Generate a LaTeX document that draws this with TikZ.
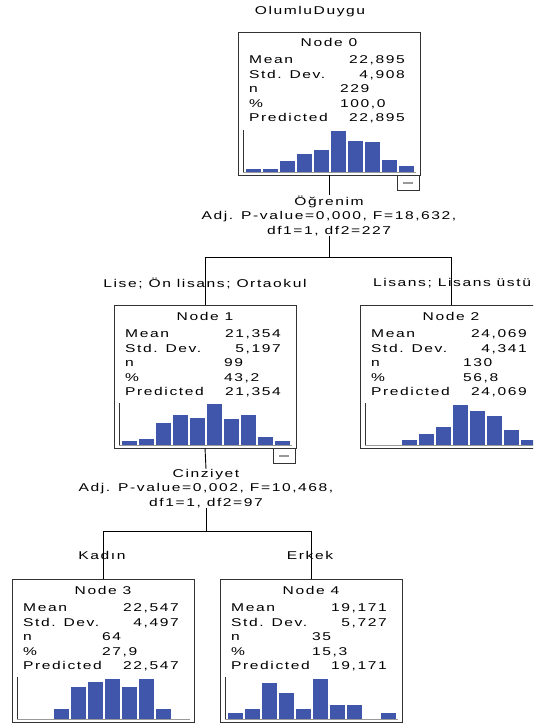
\documentclass[tikz,border=0pt]{standalone}
\usepackage{fontspec}
\setmainfont{Liberation Sans}[FakeStretch=1.38,LetterSpace=14]
\definecolor{histblue}{RGB}{64,86,170}
\tikzset{
  statbox/.style={draw=black!80, line width=0.9pt, minimum width=182pt, minimum height=143pt,
    anchor=north west, inner sep=0pt, outer sep=0pt},
  txt/.style={font=\fontsize{11.3}{14.5}\selectfont, text=black, inner sep=0pt},
  conn/.style={draw=black, line width=0.9pt},
  iconbox/.style={draw=black!80, line width=0.9pt},
}
\newcommand\chaidnode[5]{% name, L, T, number, bars
  \node[statbox] (#1) at (#2,#3) {};
  \node[txt, anchor=base] (#1-h) at ({#2+91},{#3+15}) {Node #4};
  \foreach \h [count=\i] in {#5} {
    \fill[histblue] ({#2+7+17*(\i-1)+0.6},{#3+140}) rectangle ({#2+7+17*\i-0.6},{#3+140-\h});
  }
  \draw[black!80, line width=0.8pt] ({#2+5},{#3+98}) -- ({#2+5},{#3+140.5});
  \draw[black!40, line width=0.8pt] ({#2+5},{#3+140.5}) -- ({#2+178},{#3+140.5});
}
\newcommand\chaidvals[8]{% L, T, nx, mean, sd, n, pct, pred
  \node[txt, anchor=base west] at ({#1+11},{#2+32}) {Mean};
  \node[txt, anchor=base west] at ({#1+11},{#2+47}) {Std. Dev.};
  \node[txt, anchor=base west] at ({#1+11},{#2+61}) {n};
  \node[txt, anchor=base west] at ({#1+11},{#2+76}) {\%};
  \node[txt, anchor=base west] at ({#1+11},{#2+90}) {Predicted};
  \node[txt, anchor=base east] at ({#1+167},{#2+32}) {#4};
  \node[txt, anchor=base east] at ({#1+167},{#2+47}) {#5};
  \node[txt, anchor=base west] at (#3,{#2+61}) {#6};
  \node[txt, anchor=base west] at (#3,{#2+76}) {#7};
  \node[txt, anchor=base east] at ({#1+167},{#2+90}) {#8};
}
\newcommand\minusicon[2]{% L, T
  \draw[iconbox] ({#1+159},{#2+143}) rectangle ({#1+181},{#2+158});
  \draw[black!40, line width=1.2pt] ({#1+165},{#2+151}) -- ({#1+175},{#2+151});
}
\begin{document}
\begin{tikzpicture}[x=1pt,y=-1pt]
  \useasboundingbox (0,0) rectangle (533,727);
  \clip (0,0) rectangle (533,727);
  \fill[white] (0,0) rectangle (533,727);

  \node[txt] (title) at (310,12) {OlumluDuygu};

  % nodes
  \chaidnode{n0}{238}{32}{0}{3.3,3.3,11,17.7,21.7,40.7,31.3,30,11.7,5.7}
  \chaidvals{238}{32}{340}{22,895}{4,908}{229}{100,0}{22,895}
  \minusicon{238}{32}

  \chaidnode{n1}{114}{305}{1}{4,5.7,21.7,30,26.7,40.7,25.7,30,8,4}
  \chaidvals{114}{305}{224}{21,354}{5,197}{99}{43,2}{21,354}
  \minusicon{114}{305}

  \chaidnode{n2}{360}{305}{2}{0,0,5,11,17.7,40,34,29,15,5}
  \chaidvals{360}{305}{463}{24,069}{4,341}{130}{56,8}{24,069}

  \chaidnode{n3}{12}{579}{3}{0,0,10,31.7,37.3,40,31.7,40,10,0}
  \chaidvals{12}{579}{102}{22,547}{4,497}{64}{27,9}{22,547}

  \chaidnode{n4}{220}{579}{4}{5.7,10,36,26,10,40,14,14,0,5.7}
  \chaidvals{220}{579}{312}{19,171}{5,727}{35}{15,3}{19,171}

  % split descriptions
  \node[txt, align=center, anchor=north] (s0) at (329,195.5)
    {Öğrenim\\Adj. P-value=0,000, F=18,632,\\df1=1, df2=227};
  \node[txt, align=center, anchor=north] (s1) at (206,469)
    {Cinziyet\\Adj. P-value=0,002, F=10,468,\\df1=1, df2=97};

  \coordinate (j0) at (329,257);
  \coordinate (j1) at (206,531);

  % connectors
  \draw[conn] (n0.south) -- (s0.north);
  \draw[conn] (s0.south) -- (j0);
  \draw[conn] (j0) -| (n1.north);
  \draw[conn] (j0) -| (n2.north);
  \draw[conn] (n1.south) -- (s1.north);
  \draw[conn] (s1.south) -- (j1);
  \draw[conn] (j1) -| (n3.north);
  \draw[conn] (j1) -| (n4.north);

  % branch labels
  \node[txt] (b1) at (205,283) {Lise; Ön lisans; Ortaokul};
  \node[txt] (b2) at (452,283) {Lisans; Lisans üstü};
  \node[txt] (b3) at (102,555) {Kadın};
  \node[txt] (b4) at (310,555) {Erkek};
\end{tikzpicture}
\end{document}
